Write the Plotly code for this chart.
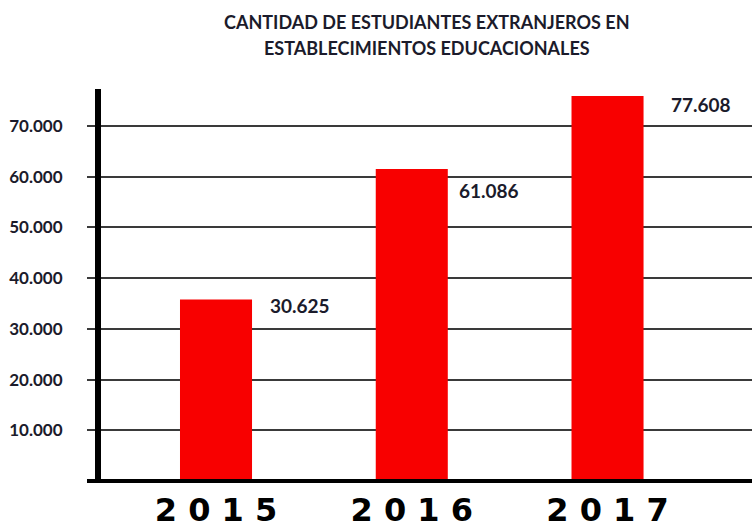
import plotly.graph_objects as go

# ---- data ----
years = [2015, 2016, 2017]
year_labels = ["2015", "2016", "2017"]
bar_heights = [35800, 61500, 75900]          # bar heights as drawn in the picture
value_labels = ["30.625", "61.086", "77.608"]  # printed labels
y_ticks = [10000, 20000, 30000, 40000, 50000, 60000, 70000]
y_tick_labels = ["10.000", "20.000", "30.000", "40.000", "50.000", "60.000", "70.000"]
title_lines = ["CANTIDAD DE ESTUDIANTES EXTRANJEROS EN", "ESTABLECIMIENTOS EDUCACIONALES"]

# ---- style ----
label_offsets = [(52, -6), (45, -21), (61, -8)]  # (xshift px from bar centre, yshift px from bar top)
TXT = "#1b1b2b"
RED = "#f80000"
L, T, B, W, H = 101, 89, 45, 752, 524
PW, PH = W - L, H - T - B

fig = go.Figure()
fig.add_trace(go.Bar(
    x=years, y=bar_heights, width=0.368,
    marker=dict(color=RED, line=dict(width=0)),
    hoverinfo="skip",
))

for x, h, t, (dx, dy) in zip(years, bar_heights, value_labels, label_offsets):
    fig.add_annotation(x=x, y=h, text=f"<b>{t}</b>", showarrow=False,
                       xanchor="left", yanchor="middle", xshift=dx, yshift=dy,
                       font=dict(family="Lato", size=19, color=TXT))

for i, line in enumerate(title_lines):
    fig.add_annotation(xref="paper", yref="paper", x=(427 - L) / PW,
                       y=1 + (T - [22, 48][i]) / PH, text=f"<b>{line}</b>",
                       showarrow=False, xanchor="center", yanchor="middle",
                       font=dict(family="Lato", size=18, color=TXT))

# extension of the x-axis line to the left of the y axis
fig.add_shape(type="line", xref="paper", yref="paper", x0=-14 / PW, x1=0,
              y0=-2 / PH, y1=-2 / PH, line=dict(color="black", width=4))

fig.update_layout(
    width=W, height=H,
    margin=dict(l=L, r=0, t=T, b=B, autoexpand=False),
    paper_bgcolor="white", plot_bgcolor="white",
    showlegend=False,
    xaxis=dict(
        range=[2014.4125, 2017.738], tickvals=years,
        ticktext=[f"<b>{' '.join(s)}</b>" for s in year_labels],
        tickfont=dict(family="DejaVu Sans", size=32, color="black"),
        showgrid=False, zeroline=False, showline=True, linecolor="black", linewidth=4,
        ticks="", ticklabelstandoff=0, automargin=False,
    ),
    yaxis=dict(
        range=[394, 77287], tickvals=y_ticks, ticktext=[f"<b>{s}</b>" for s in y_tick_labels],
        tickfont=dict(family="Lato", size=17, color=TXT),
        showgrid=True, gridcolor="#3a3a3a", gridwidth=2,
        zeroline=False, showline=True, linecolor="black", linewidth=6,
        ticks="outside", ticklen=8, tickwidth=2, tickcolor="#3a3a3a",
        ticklabelstandoff=21, automargin=False,
    ),
)

fig.write_html("out.html", config={"displayModeBar": False},
               post_script="document.body.style.margin='0';")
